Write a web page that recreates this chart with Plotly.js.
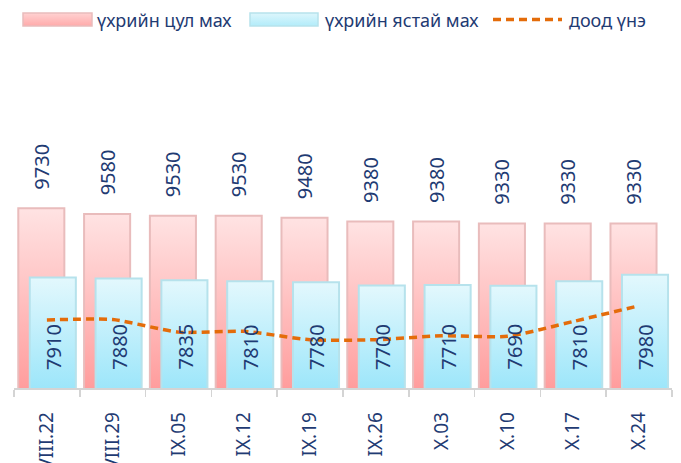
<!DOCTYPE html>
<html>
<head>
<meta charset="utf-8">
<script src="https://cdn.plot.ly/plotly-3.0.1.min.js"></script>
<style>
  html, body { margin: 0; padding: 0; background: #ffffff; }
  #chart { width: 681px; height: 463px; }
</style>
</head>
<body>
<div id="chart"></div>
<script>
// ---- data ----
const categories = ["VIII.22", "VIII.29", "IX.05", "IX.12", "IX.19", "IX.26", "X.03", "X.10", "X.17", "X.24"];
const seriesNames = ["үхрийн цул мах", "үхрийн ястай мах", "доод үнэ"];
const boneless = [9730, 9580, 9530, 9530, 9480, 9380, 9380, 9330, 9330, 9330];
const boneIn = [7910, 7880, 7835, 7810, 7780, 7700, 7710, 7690, 7810, 7980];
const lowPrice = [6790, 6800, 6470, 6490, 6270, 6270, 6375, 6360, 6750, 7165];

const navy = "#1F3B73";
const fontFam = "'Noto Sans', 'Liberation Sans', sans-serif";
const yFloor = 5000;

const traces = [
  {
    type: "bar", name: seriesNames[0], x: categories, y: boneless,
    width: 0.7, offset: -0.435,
    marker: { color: "#FFC6C6", line: { color: "#E9BCBC", width: 2 } },
    texttemplate: "\u00a0\u00a0\u00a0%{y}", textposition: "outside", textangle: -90,
    constraintext: "none", cliponaxis: false,
    textfont: { family: fontFam, size: 20, color: navy },
    hoverinfo: "skip"
  },
  {
    type: "bar", name: seriesNames[1], x: categories, y: boneIn,
    width: 0.7, offset: -0.26,
    marker: { color: "#C4F0FB", line: { color: "#B6E2EC", width: 2 } },
    textposition: "none",
    hoverinfo: "skip"
  },
  {
    type: "scatter", mode: "lines", name: seriesNames[2], x: categories, y: lowPrice,
    line: { color: "#E46C0A", width: 3.5, dash: "8px,5px", shape: "spline", smoothing: 0.6 },
    hoverinfo: "skip"
  }
];

const blueLabels = categories.map(function (c, i) {
  return {
    x: c, y: yFloor, xref: "x", yref: "y",
    text: String(boneIn[i]), showarrow: false, textangle: -90,
    xanchor: "center", yanchor: "bottom", xshift: 6, yshift: 16,
    font: { family: fontFam, size: 20, color: navy }
  };
});

const layout = {
  width: 681, height: 463,
  margin: { l: 14, r: 9, t: 60, b: 75 },
  paper_bgcolor: "#ffffff", plot_bgcolor: "#ffffff",
  barmode: "overlay",
  showlegend: true,
  legend: {
    orientation: "h", xref: "container", yref: "container",
    x: 0, y: 1.0, xanchor: "left", yanchor: "top",
    traceorder: "normal",
    font: { family: fontFam, size: 18, color: navy },
    bgcolor: "rgba(0,0,0,0)"
  },
  annotations: blueLabels,
  xaxis: {
    type: "category", range: [-0.5, 9.5],
    showline: true, linecolor: "#D4D4D4", linewidth: 1.5,
    ticks: "outside", tickson: "boundaries", ticklen: 7, tickcolor: "#D4D4D4", tickwidth: 1.5,
    tickangle: -90, ticklabelstandoff: 15,
    tickfont: { family: fontFam, size: 19, color: navy },
    showgrid: false, zeroline: false, fixedrange: true
  },
  yaxis: {
    range: [yFloor, 13630], visible: false, showgrid: false, zeroline: false, fixedrange: true
  }
};

Plotly.newPlot("chart", traces, layout, { displayModeBar: false, staticPlot: true }).then(function (gd) {
  const svgNS = "http://www.w3.org/2000/svg";
  const svg = document.querySelector("#chart .main-svg");
  let defs = svg.querySelector("defs");
  if (!defs) { defs = document.createElementNS(svgNS, "defs"); svg.insertBefore(defs, svg.firstChild); }
  function addGrad(id, top, bottom, y1, y2) {
    const g = document.createElementNS(svgNS, "linearGradient");
    g.setAttribute("id", id);
    if (y1 !== undefined) {
      g.setAttribute("gradientUnits", "userSpaceOnUse");
      g.setAttribute("x1", "0"); g.setAttribute("x2", "0");
      g.setAttribute("y1", String(y1)); g.setAttribute("y2", String(y2));
    } else {
      g.setAttribute("x1", "0"); g.setAttribute("y1", "0");
      g.setAttribute("x2", "0"); g.setAttribute("y2", "1");
    }
    const s1 = document.createElementNS(svgNS, "stop");
    s1.setAttribute("offset", "0"); s1.setAttribute("stop-color", top);
    const s2 = document.createElementNS(svgNS, "stop");
    s2.setAttribute("offset", "1"); s2.setAttribute("stop-color", bottom);
    g.appendChild(s1); g.appendChild(s2);
    defs.appendChild(g);
  }
  const sz = gd._fullLayout._size;
  const plotH = sz.h;
  const cols = [["#FFE3E3", "#FF9D9D"], ["#E3F8FD", "#9DE6FA"]];
  document.querySelectorAll("#chart .barlayer .trace").forEach(function (t, i) {
    t.querySelectorAll(".point path").forEach(function (p, j) {
      const bb = p.getBBox();
      const id = "g" + i + "_" + j;
      addGrad(id, cols[i][0], cols[i][1], bb.y, plotH);
      p.style.fill = "url(#" + id + ")";
    });
  });
  addGrad("gPinkL", "#FFD2D2", "#FFAAAA");
  addGrad("gBlueL", "#DDF6FC", "#B2ECFA");

  // put the inside labels of the blue bars under the dashed line, as in the reference
  const plotG = document.querySelector("#chart .cartesianlayer .plot");
  const scatterLayer = plotG ? plotG.querySelector(".scatterlayer") : null;
  if (plotG && scatterLayer) {
    const holder = document.createElementNS(svgNS, "g");
    holder.setAttribute("transform", "translate(" + (-sz.l) + "," + (-sz.t) + ")");
    plotG.insertBefore(holder, scatterLayer);
    document.querySelectorAll("#chart g.annotation").forEach(function (a) { holder.appendChild(a); });
  }

  // legend: long symbols like the reference
  document.querySelectorAll("#chart .legend, #chart .legend *").forEach(function (el) {
    if (el.hasAttribute && el.hasAttribute("clip-path")) el.removeAttribute("clip-path");
  });
  const iconLeft = [23, 250, 493];
  const iconW = [69, 68, 69];
  const textLeft = [97, 325, 569];
  const iconCY = 19.5;
  const lgrads = ["gPinkL", "gBlueL"];
  document.querySelectorAll("#chart .legend .traces").forEach(function (it, i) {
    let icon;
    if (i < 2) {
      icon = it.querySelector(".legendpoints path");
      icon.setAttribute("d", "M0,-6.5h" + iconW[i] + "v13h-" + iconW[i] + "Z");
      icon.style.fill = "url(#" + lgrads[i] + ")";
      icon.style.strokeWidth = "1.5px";
    } else {
      icon = it.querySelector(".legendlines path");
      icon.setAttribute("d", "M0,0h" + iconW[i]);
    }
    const m = /translate\(([-\d.e]+)[ ,]+([-\d.e]+)\)/.exec(it.getAttribute("transform") || "translate(0,0)");
    let tx = m ? parseFloat(m[1]) : 0, ty = m ? parseFloat(m[2]) : 0;
    const r = icon.getBoundingClientRect();
    tx += iconLeft[i] - r.left;
    ty += iconCY - (r.top + r.bottom) / 2;
    it.setAttribute("transform", "translate(" + tx + "," + ty + ")");
    const txt = it.querySelector(".legendtext");
    const rt = txt.getBoundingClientRect();
    const x0 = parseFloat(txt.getAttribute("x") || "40");
    txt.setAttribute("x", String(x0 + textLeft[i] - rt.left));
  });
});
</script>
</body>
</html>
